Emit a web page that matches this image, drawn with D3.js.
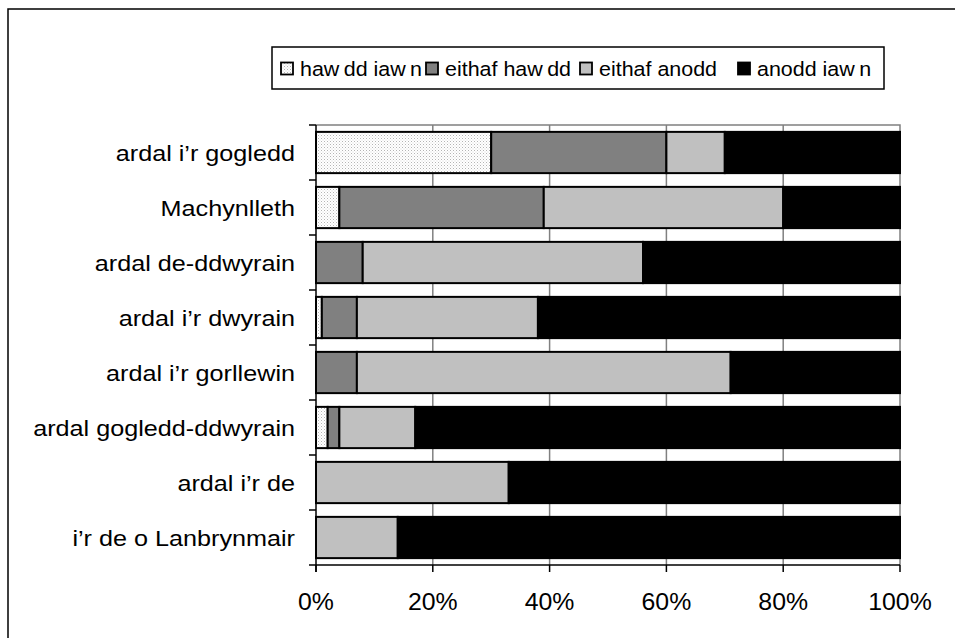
<!DOCTYPE html>
<html>
<head>
<meta charset="utf-8">
<script src="https://cdn.jsdelivr.net/npm/d3@7"></script>
<style>
  html, body { margin: 0; padding: 0; background: #fff; }
  svg { display: block; }
  text { font-family: "Liberation Sans", Arial, sans-serif; fill: #000; }
</style>
</head>
<body>
<svg id="chart" width="955" height="638"></svg>
<script>
// Areas, top to bottom
const categories = [
  "ardal i’r gogledd",
  "Machynlleth",
  "ardal de-ddwyrain",
  "ardal i’r dwyrain",
  "ardal i’r gorllewin",
  "ardal gogledd-ddwyrain",
  "ardal i’r de",
  "i’r de o Lanbrynmair"
];

// Response categories (legend order) and their shares in percent
const seriesNames = ["hawdd iawn", "eithaf hawdd", "eithaf anodd", "anodd iawn"];
const hawddIawn   = [30, 4, 0, 1, 0, 2, 0, 0];
const eithafHawdd = [30, 35, 8, 6, 7, 2, 0, 0];
const eithafAnodd = [10, 41, 48, 31, 64, 13, 33, 14];
const anoddIawn   = [30, 20, 44, 62, 29, 83, 67, 86];

const xTicks = [0, 20, 40, 60, 80, 100];

const rows = categories.map((c, i) => ({
  category: c,
  "hawdd iawn": hawddIawn[i],
  "eithaf hawdd": eithafHawdd[i],
  "eithaf anodd": eithafAnodd[i],
  "anodd iawn": anoddIawn[i]
}));

const svg = d3.select("#chart");

// dotted fill for the first series
const defs = svg.append("defs");
const pat = defs.append("pattern")
  .attr("id", "dots").attr("patternUnits", "userSpaceOnUse")
  .attr("width", 3).attr("height", 3);
pat.append("rect").attr("width", 3).attr("height", 3).attr("fill", "#fff");
pat.append("rect").attr("x", 0).attr("y", 0).attr("width", 1).attr("height", 1).attr("fill", "#b4b4b4");
pat.append("rect").attr("x", 1.5).attr("y", 1.5).attr("width", 1).attr("height", 1).attr("fill", "#d6d6d6");

const fills = {
  "hawdd iawn": "url(#dots)",
  "eithaf hawdd": "#808080",
  "eithaf anodd": "#c0c0c0",
  "anodd iawn": "#000000"
};

// outer chart frame
svg.append("rect")
  .attr("x", 8).attr("y", 9).attr("width", 1000).attr("height", 700)
  .attr("fill", "none").attr("stroke", "#000").attr("stroke-width", 1.5);

const plot = { left: 316, right: 900, top: 125, bottom: 565 };

const x = d3.scaleLinear().domain([0, 100]).range([plot.left, plot.right]);
const y = d3.scaleBand().domain(categories)
  .range([plot.top, plot.bottom])
  .paddingInner(0.25).paddingOuter(0.125);

// plot-area frame (grey top and right)
svg.append("path")
  .attr("d", `M${plot.left},${plot.top}H${plot.right}V${plot.bottom}`)
  .attr("fill", "none").attr("stroke", "#808080").attr("stroke-width", 1.5);

// vertical gridlines
svg.append("g").selectAll("line")
  .data(xTicks.filter(t => t > 0 && t < 100))
  .join("line")
  .attr("x1", d => x(d)).attr("x2", d => x(d))
  .attr("y1", plot.top).attr("y2", plot.bottom)
  .attr("stroke", "#808080").attr("stroke-width", 1.5);

// stacked bars
const stacked = d3.stack().keys(seriesNames)(rows);
svg.append("g").selectAll("g")
  .data(stacked)
  .join("g")
  .attr("fill", d => fills[d.key])
  .selectAll("rect")
  .data(d => d.filter(s => s[1] - s[0] > 0))
  .join("rect")
  .attr("x", d => x(d[0]))
  .attr("width", d => x(d[1]) - x(d[0]))
  .attr("y", d => y(d.data.category))
  .attr("height", y.bandwidth())
  .attr("stroke", "#000").attr("stroke-width", 2);

// y axis: line, ticks at band boundaries
const yAxisG = svg.append("g");
yAxisG.append("line")
  .attr("x1", plot.left).attr("x2", plot.left)
  .attr("y1", plot.top).attr("y2", plot.bottom + 7)
  .attr("stroke", "#000").attr("stroke-width", 1.5);
const bounds = d3.range(categories.length + 1).map(i => plot.top + i * y.step());
yAxisG.selectAll("line.tick")
  .data(bounds)
  .join("line").attr("class", "tick")
  .attr("x1", plot.left - 7).attr("x2", plot.left)
  .attr("y1", d => d).attr("y2", d => d)
  .attr("stroke", "#000").attr("stroke-width", 1.5);
yAxisG.selectAll("text")
  .data(categories)
  .join("text")
  .attr("transform", d => `translate(295,${y(d) + y.bandwidth() / 2 + 8}) scale(1.13,1)`)
  .attr("text-anchor", "end")
  .attr("font-size", 22.3)
  .text(d => d);

// x axis
const xAxisG = svg.append("g");
xAxisG.append("line")
  .attr("x1", plot.left).attr("x2", plot.right)
  .attr("y1", plot.bottom).attr("y2", plot.bottom)
  .attr("stroke", "#000").attr("stroke-width", 1.5);
xAxisG.selectAll("line.tick")
  .data(xTicks)
  .join("line").attr("class", "tick")
  .attr("x1", d => x(d)).attr("x2", d => x(d))
  .attr("y1", plot.bottom).attr("y2", plot.bottom + 7)
  .attr("stroke", "#000").attr("stroke-width", 1.5);
xAxisG.selectAll("text")
  .data(xTicks)
  .join("text")
  .attr("transform", d => `translate(${x(d)},610) scale(1.08,1)`)
  .attr("text-anchor", "middle")
  .attr("font-size", 23)
  .text(d => d + "%");

// legend
const legend = svg.append("g");
legend.append("rect")
  .attr("x", 272).attr("y", 47).attr("width", 612).attr("height", 42)
  .attr("fill", "#fff").attr("stroke", "#000").attr("stroke-width", 1.5);
const legendX = [281, 426, 580, 738];
const items = legend.selectAll("g.item")
  .data(seriesNames)
  .join("g").attr("class", "item")
  .attr("transform", (d, i) => `translate(${legendX[i]},0)`);
items.append("rect")
  .attr("x", 0).attr("y", 62.5).attr("width", 12).attr("height", 12)
  .attr("fill", d => fills[d]).attr("stroke", "#000").attr("stroke-width", 1.8);
items.append("text")
  .attr("transform", "translate(19,76) scale(1.1,1)")
  .attr("font-size", 19.5)
  .each(function (d) {
    // the face draws a small gap after each "w"
    const t = d3.select(this);
    const parts = d.split(/(?<=w)/);
    parts.forEach((p, k) => {
      t.append("tspan").attr("dx", k > 0 ? 4 : 0).text(p);
    });
  });
</script>
</body>
</html>
